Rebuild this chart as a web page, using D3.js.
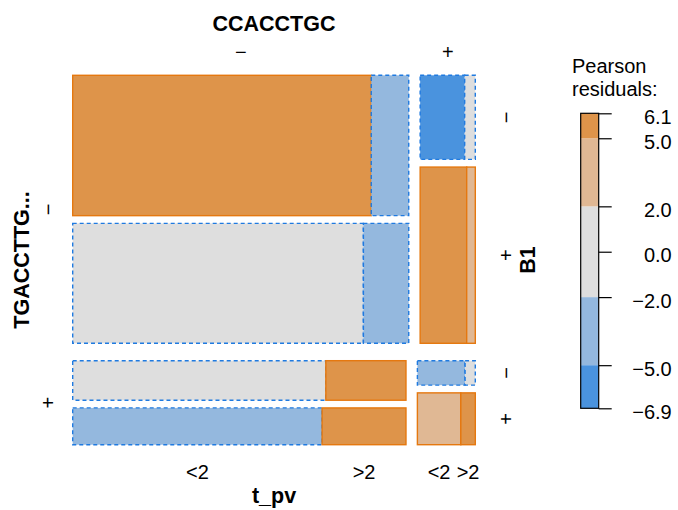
<!DOCTYPE html>
<html>
<head>
<meta charset="utf-8">
<script src="https://cdn.jsdelivr.net/npm/d3@7"></script>
<style>
  body { margin: 0; background: #fff; }
  text { font-family: "Liberation Sans", Arial, Helvetica, sans-serif; fill: #000; }
</style>
</head>
<body>
<script>
// variables and their levels
var varNames = ["TGACCTTG...", "CCACCTGC", "B1", "t_pv"];
var tLevels = ["\u2212", "+"];
var cLevels = ["\u2212", "+"];
var bLevels = ["\u2212", "+"];
var pvLevels = ["<2", ">2"];

// counts, order: TGACCTTG, CCACCTGC, B1, t_pv (last varies fastest)
var counts = [470, 59, 391, 61, 42, 10, 92, 17,
              120, 38, 110, 37, 14, 3, 27, 9];
// Pearson residuals, same order
var residuals = [6.1, -3.4, -1.2, -2.8, -6.9, -0.6, 5.4, 2.4,
                 -1.5, 5.7, -2.6, 5.3, -2.3, -0.4, 3.1, 5.1];

var legendBreaks = [-6.9, -5, -2, 2, 5, 6.1];
var legendTicks = [6.1, 5.0, 2.0, 0.0, -2.0, -5.0, -6.9];
var legendColors = ["#4a93de", "#94b8de", "#dedede", "#e0b894", "#de944a"];

var width = 678, height = 510;
var svg = d3.select("body").append("svg")
    .attr("width", width)
    .attr("height", height);

var plot = {x0: 72.7, y0: 75.3, x1: 475.3, y1: 444.7};
var gaps = [17.4, 11.4, 7.7, 0];   // spacing per split level
var vertical = [true, false, true, false]; // true = split into rows

var cells = counts.map(function(n, i) {
    return {n: n, r: residuals[i], idx: [(i >> 3) & 1, (i >> 2) & 1, (i >> 1) & 1, i & 1]};
});

var boxes = [];   // {depth, idx, x0,y0,x1,y1}
function layout(box, depth, prefix) {
    if (depth === 4) return;
    var sub = cells.filter(function(c) {
        return prefix.every(function(v, k) { return c.idx[k] === v; });
    });
    var sums = [0, 1].map(function(k) {
        return d3.sum(sub.filter(function(c) { return c.idx[depth] === k; }), function(c) { return c.n; });
    });
    var total = d3.sum(sums);
    var len = vertical[depth] ? box.y1 - box.y0 : box.x1 - box.x0;
    var s = d3.scaleLinear().domain([0, total]).range([0, len - gaps[depth]]);
    var start = vertical[depth] ? box.y0 : box.x0;
    var cum = 0;
    sums.forEach(function(v, k) {
        var a = start + s(cum) + k * gaps[depth];
        var b = a + s(v);
        cum += v;
        var nb = vertical[depth] ?
            {x0: box.x0, x1: box.x1, y0: a, y1: b} :
            {x0: a, x1: b, y0: box.y0, y1: box.y1};
        var p = prefix.concat([k]);
        nb.depth = depth; nb.idx = p;
        boxes.push(nb);
        if (depth === 3) {
            var cell = cells.filter(function(c) { return c.idx.join() === p.join(); })[0];
            nb.cell = cell;
        }
        layout(nb, depth + 1, p);
    });
}
layout(plot, 0, []);

var fill = d3.scaleThreshold()
    .domain(legendBreaks.slice(1, -1))
    .range(legendColors);

var tiles = boxes.filter(function(b) { return b.depth === 3; });
svg.append("g").selectAll("rect")
    .data(tiles)
    .enter()
    .append("rect")
    .attr("x", function(d) { return d.x0; })
    .attr("y", function(d) { return d.y0; })
    .attr("width", function(d) { return d.x1 - d.x0; })
    .attr("height", function(d) { return d.y1 - d.y0; })
    .attr("fill", function(d) { return fill(d.cell.r); })
    .attr("stroke", function(d) { return d.cell.r < 0 ? "#1f7ae0" : "#e5780f"; })
    .attr("stroke-width", 1.4)
    .attr("stroke-dasharray", function(d) { return d.cell.r < 0 ? "4,3" : null; });

function box(depth, idx) {
    return boxes.filter(function(b) { return b.depth === depth && b.idx.join() === idx.join(); })[0];
}
var fs = 20, fsBold = 21.5;
var labels = svg.append("g").attr("font-size", fs);

// top: CCACCTGC
cLevels.forEach(function(l, k) {
    var b = box(1, [0, k]);
    labels.append("text").text(l)
        .attr("x", (b.x0 + b.x1) / 2).attr("y", 59)
        .attr("text-anchor", "middle");
});
labels.append("text").text(varNames[1])
    .attr("x", (plot.x0 + plot.x1) / 2).attr("y", 31)
    .attr("font-size", fsBold)
    .attr("text-anchor", "middle").attr("font-weight", "bold");

// left: TGACCTTG...
tLevels.forEach(function(l, k) {
    var b = box(0, [k]);
    var cy = (b.y0 + b.y1) / 2;
    labels.append("text").text(l)
        .attr("transform", "translate(55," + cy + ") rotate(-90)")
        .attr("text-anchor", "middle");
});
labels.append("text").text(varNames[0])
    .attr("transform", "translate(29," + (plot.y0 + plot.y1) / 2 + ") rotate(-90)")
    .attr("font-size", fsBold)
    .attr("text-anchor", "middle").attr("font-weight", "bold");

// right: B1 (from last column)
tLevels.forEach(function(t, i) {
    bLevels.forEach(function(l, k) {
        var b = box(2, [i, 1, k]);
        var cy = (b.y0 + b.y1) / 2;
        labels.append("text").text(l)
            .attr("transform", "translate(513," + cy + ") rotate(-90)")
            .attr("text-anchor", "middle");
    });
});
labels.append("text").text(varNames[2])
    .attr("transform", "translate(535," + (plot.y0 + plot.y1) / 2 + ") rotate(-90)")
    .attr("font-size", fsBold)
    .attr("text-anchor", "middle").attr("font-weight", "bold");

// bottom: t_pv (from last row)
cLevels.forEach(function(c, i) {
    pvLevels.forEach(function(l, k) {
        var b = box(3, [1, i, 1, k]);
        labels.append("text").text(l)
            .attr("x", (b.x0 + b.x1) / 2).attr("y", 479)
            .attr("text-anchor", "middle");
    });
});
labels.append("text").text(varNames[3])
    .attr("x", (plot.x0 + plot.x1) / 2).attr("y", 503)
    .attr("font-size", fsBold)
    .attr("text-anchor", "middle").attr("font-weight", "bold");

// legend
var ly = d3.scaleLinear().domain([6.1, -6.9]).range([113.3, 408.3]);
var legend = svg.append("g");
legend.selectAll("rect")
    .data(d3.range(legendColors.length))
    .enter()
    .append("rect")
    .attr("x", 580.7)
    .attr("width", 18)
    .attr("y", function(i) { return ly(legendBreaks[i + 1]); })
    .attr("height", function(i) { return ly(legendBreaks[i]) - ly(legendBreaks[i + 1]); })
    .attr("fill", function(i) { return legendColors[i]; });
legend.append("rect")
    .attr("x", 580.7).attr("y", ly(6.1))
    .attr("width", 18).attr("height", ly(-6.9) - ly(6.1))
    .attr("fill", "none").attr("stroke", "#000").attr("stroke-width", 1.2);

var axis = d3.axisRight(ly).tickValues(legendTicks).tickSize(13).tickPadding(0)
    .tickFormat(d3.format(".1f"));
var ax = legend.append("g").attr("transform", "translate(598.7,0)").call(axis);
ax.select(".domain").remove();
ax.selectAll(".tick line").attr("stroke", "#000").attr("stroke-width", 1.2);
ax.selectAll(".tick text")
    .attr("font-size", fs)
    .attr("font-family", "Liberation Sans, Arial, sans-serif")
    .attr("fill", "#000")
    .attr("text-anchor", "end")
    .attr("x", 73)
    .attr("dy", "0.5em");

legend.append("text").text("Pearson")
    .attr("x", 572).attr("y", 73).attr("font-size", fs);
legend.append("text").text("residuals:")
    .attr("x", 572).attr("y", 96).attr("font-size", fs);
</script>
</body>
</html>
